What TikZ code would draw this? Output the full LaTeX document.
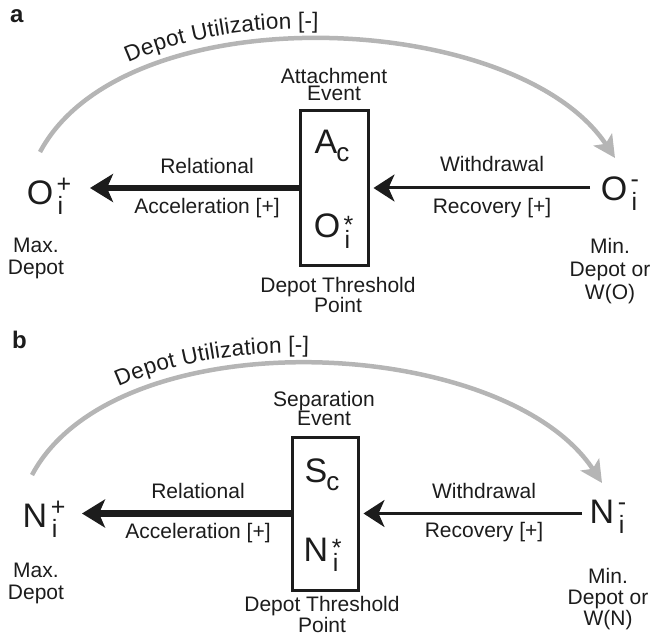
\documentclass[tikz,border=0pt]{standalone}
\usepackage{fontspec}
\setmainfont{Liberation Sans}
\usetikzlibrary{arrows.meta,decorations.text}
\definecolor{ink}{HTML}{1C1C1C}
\definecolor{arcgray}{HTML}{B5B5B5}
\newcommand\fsz[1]{\fontsize{#1}{#1}\selectfont}
% base letter with stacked super/subscripts: base, sup, sup raise, sub, sub drop
\newcommand\symb[5]{{\fsz{34}#1}\rlap{\hspace{3.5pt}\raisebox{#3}{\fsz{25}#2}}\rlap{\hspace{4.5pt}\raisebox{-#5}{\fsz{25}#4}}}
\newcommand\symc[1]{{\fsz{34}#1}\rlap{\hspace{-1pt}\raisebox{-8pt}{\fsz{26}c}}}
\begin{document}
\begin{tikzpicture}[x=1pt,y=-1pt,
  lbl/.style={font=\fsz{21}, text=ink, inner sep=0pt},
  ml/.style={text=ink, inner sep=0pt, align=center, anchor=north, font=\fontsize{21}{#1}\selectfont},
  sym/.style={text=ink, inner sep=0pt, anchor=base},
  panel/.style={font=\bfseries\fsz{24}, text=ink, inner sep=0pt, anchor=base west},
  evbox/.style={draw=ink, line width=3pt, inner sep=0pt},
  thickarr/.style={draw=ink, line width=6.5pt, -{Stealth[length=23pt,width=28pt,inset=6pt]}},
  thinarr/.style={draw=ink, line width=3pt, shorten >=4pt, -{Stealth[length=21pt,width=27pt,inset=6pt]}},
  arcarr/.style={draw=arcgray, line width=4.5pt, -{Stealth[length=22pt,width=22pt,inset=5pt]}},
  arctext/.style={decorate, decoration={text along path, text={|\fsz{22.5}\color{ink}|Depot Utilization [-]}, text align={left indent=#1}, raise=11pt}}
]
\useasboundingbox (0,0) rectangle (650,636);

% ---------------- panel a ----------------
\node[panel] (la) at (10,23) {a};
\node[evbox, minimum width=68pt, minimum height=154pt] (boxa) at (334,188) {};
\node[sym] (AcA) at (326,154) {\symc{A}};
\node[sym] (OsA) at (327,238) {\symb{O}{*}{5pt}{i}{10pt}};
\node[ml=17] (attA) at (334,67.7) {Attachment\\Event};
\node[ml=18] (thrA) at (338,276.7) {Depot Threshold\\Point};
\node[ml=22] (maxA) at (36,238) {Max.\\Depot};
\node[ml=23] (minA) at (610,238) {Min.\\Depot or\\W(O)};
\node[lbl, anchor=base] (relA) at (207,174) {Relational};
\node[lbl, anchor=base] (accA) at (207,214) {Acceleration [+]};
\node[lbl, anchor=base] (witA) at (492,172) {Withdrawal};
\node[lbl, anchor=base] (recA) at (492,214) {Recovery [+]};
\node[sym] (OpA) at (40,205) {\symb{O}{+}{12pt}{i}{10pt}};
\node[sym] (OmA) at (614,201) {\symb{O}{-}{13pt}{i}{10pt}};
\coordinate (tipA) at (90,188);
\coordinate (stA) at (590,188);
\draw[thickarr] (boxa.west) -- (tipA);
\draw[thinarr] (stA) -- (boxa.east);
\coordinate (asA) at (40,152);
\coordinate (aeA) at (615,158);
\draw[arcarr] (asA) .. controls (125,-7) and (516,9) .. (aeA);
\path[arctext=124pt] (asA) .. controls (125,-7) and (516,9) .. (aeA);

% ---------------- panel b ----------------
\node[panel] (lb) at (12,348) {b};
\node[evbox, minimum width=66pt, minimum height=153pt] (boxb) at (325,513.5) {};
\node[sym] (ScB) at (316,482) {\symc{S}};
\node[sym] (NsB) at (316,561) {\symb{N}{*}{5pt}{i}{10pt}};
\node[ml=17] (sepB) at (324,390.7) {Separation\\Event};
\node[ml=18] (thrB) at (322,596.5) {Depot Threshold\\Point};
\node[ml=22] (maxB) at (36,563) {Max.\\Depot};
\node[ml=21] (minB) at (608,568) {Min.\\Depot or\\W(N)};
\node[lbl, anchor=base] (relB) at (198,498) {Relational};
\node[lbl, anchor=base] (accB) at (198,538) {Acceleration [+]};
\node[lbl, anchor=base] (witB) at (484,498) {Withdrawal};
\node[lbl, anchor=base] (recB) at (484,537) {Recovery [+]};
\node[sym] (NpB) at (35,527) {\symb{N}{+}{12pt}{i}{10pt}};
\node[sym] (NmB) at (602,523) {\symb{N}{-}{13pt}{i}{10pt}};
\coordinate (tipB) at (82,513.5);
\coordinate (stB) at (582,513.5);
\draw[thickarr] (boxb.west) -- (tipB);
\draw[thinarr] (stB) -- (boxb.east);
\coordinate (asB) at (32,475);
\coordinate (aeB) at (602,483);
\draw[arcarr] (asB) .. controls (116,317) and (504,334) .. (aeB);
\path[arctext=122pt] (asB) .. controls (116,317) and (504,334) .. (aeB);
\end{tikzpicture}
\end{document}
